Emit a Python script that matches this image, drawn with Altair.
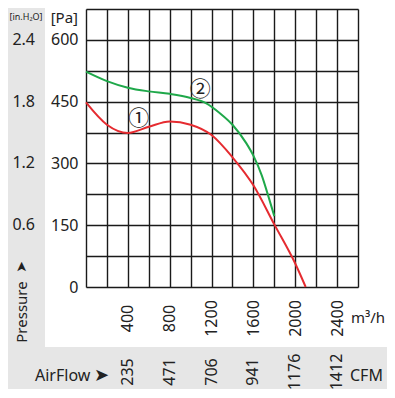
import altair as alt
import pandas as pd

# ---- data ----
flow_1 = [0, 200, 400, 600, 800, 1000, 1200, 1400, 1600, 1800, 2000, 2100]
pressure_1 = [448, 394, 374, 389, 402, 394, 369, 315, 247, 152, 57, 0]
flow_2 = [0, 200, 400, 600, 800, 1000, 1150, 1280, 1400, 1530, 1600, 1680, 1740, 1800]
pressure_2 = [523, 500, 484, 475, 469, 459, 446, 422, 394, 350, 319, 271, 223, 172]

curve_names = ["1", "2"]
curve_colors = ["#e52b30", "#1fa84a"]

m3h_ticks = [400, 800, 1200, 1600, 2000, 2400]
cfm_labels = ["235", "471", "706", "941", "1176", "1412"]
pa_ticks = [0, 150, 300, 450, 600]
inh2o_values = [600, 450, 300, 150]
inh2o_labels = ["2.4", "1.8", "1.2", "0.6"]

marker_text = ["\u2460", "\u2461"]
marker_flow = [505, 1092]
marker_pressure = [408, 479]

x_grid = list(range(0, 2601, 200))
y_grid = list(range(0, 676, 75))

FONT = "Noto Sans"
TXT = "#222222"
GRAY = "#e6e6e6"

curves = pd.DataFrame({
    "flow": flow_1 + flow_2,
    "pressure": pressure_1 + pressure_2,
    "curve": ["1"] * len(flow_1) + ["2"] * len(flow_2),
})
markers = pd.DataFrame({"flow": marker_flow, "pressure": marker_pressure, "t": marker_text})
inh2o = pd.DataFrame({"pressure": inh2o_values, "t": inh2o_labels})
cfm = pd.DataFrame({"flow": m3h_ticks, "t": cfm_labels})
one = pd.DataFrame({"a": [0]})

xs = alt.Scale(domain=[0, 2600], nice=False, zero=False)
ys = alt.Scale(domain=[0, 675], nice=False, zero=False)

x_axis = alt.Axis(
    values=x_grid, grid=True, gridColor="#1a1a1a", gridWidth=1.4, gridOpacity=1,
    domain=False, ticks=False, title=None, format="d",
    labelExpr="(datum.value % 400 == 0 && datum.value > 0 && datum.value < 2600) ? datum.label : ''",
    labelAngle=270, labelAlign="center", labelBaseline="middle", labelPadding=31,
    labelFont=FONT, labelFontSize=16, labelColor=TXT, labelOverlap=False)
y_axis = alt.Axis(
    values=y_grid, grid=True, gridColor="#1a1a1a", gridWidth=1.4, gridOpacity=1,
    domain=False, ticks=False, title=None, format="d",
    labelExpr="datum.value % 150 == 0 ? datum.label : ''",
    labelPadding=8, labelFont=FONT, labelFontSize=16, labelColor=TXT,
    labelOverlap=False)

X = alt.X("flow:Q", scale=xs, axis=x_axis)
Y = alt.Y("pressure:Q", scale=ys, axis=y_axis)

W, H = 272, 278

# gray panels (outside plot area)
left_panel = alt.Chart(one).mark_rect(color=GRAY).encode(
    x=alt.value(-80), x2=alt.value(-41), y=alt.value(-2), y2=alt.value(338))
bottom_panel = alt.Chart(one).mark_rect(color=GRAY).encode(
    x=alt.value(-80), x2=alt.value(302), y=alt.value(338), y2=alt.value(390))

lines = alt.Chart(curves).mark_line(strokeWidth=2, interpolate="monotone").encode(
    x=X, y=Y,
    color=alt.Color("curve:N", scale=alt.Scale(domain=curve_names, range=curve_colors), legend=None),
)

mark_txt = alt.Chart(markers).mark_text(font="Noto Sans CJK SC", fontSize=21, color=TXT).encode(
    x=X, y=Y, text="t:N")

inh2o_txt = alt.Chart(inh2o).mark_text(font=FONT, fontSize=16, color=TXT, align="right",
                                       baseline="middle").encode(
    x=alt.value(-51), y=Y, text="t:N")

cfm_txt = alt.Chart(cfm).mark_text(font=FONT, fontSize=16, color=TXT, angle=270,
                                   align="center", baseline="middle").encode(
    x=X, y=alt.value(363), text="t:N")


def label(text, x, y, size=16, align="left", angle=0, font=FONT):
    return alt.Chart(one).mark_text(text=text, font=font, fontSize=size, color=TXT,
                                    align=align, baseline="middle", angle=angle).encode(
        x=alt.value(x), y=alt.value(y))


texts = [
    label("[Pa]", -8, 9, size=15, align="right"),
    label("[in.H\u2082O]", -60, 8, size=9, align="center"),
    label("Pressure", -64, 303, size=15, align="center", angle=270),
    label("\u27a4", -64, 258, size=14, align="center", angle=270, font="DejaVu Sans"),
    label("AirFlow", -51, 367),
    label("\u27a4", 8, 367, size=18, align="left", font="DejaVu Sans"),
    label("CFM", 264, 367),
    label("m\u00b3/h", 265, 309, size=15),
]

chart = alt.layer(left_panel, bottom_panel, lines, mark_txt, inh2o_txt, cfm_txt, *texts).properties(
    width=W, height=H,
    autosize=alt.AutoSizeParams(type="none"),
    padding={"left": 78, "top": 1, "right": 29, "bottom": 102},
).configure_view(strokeWidth=0).configure(background="white")

chart.save("out.html", embed_options={"renderer": "svg", "actions": False})
